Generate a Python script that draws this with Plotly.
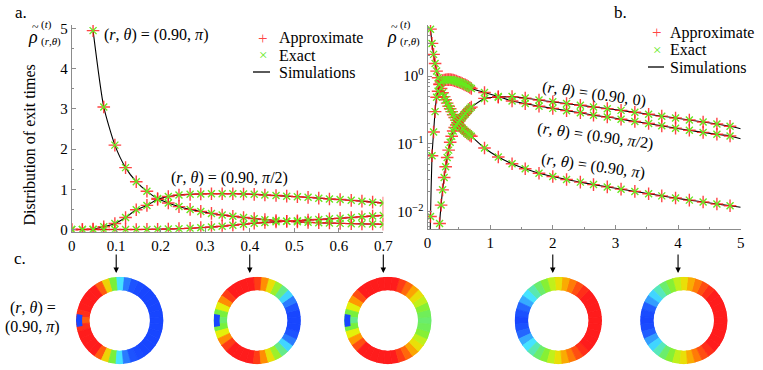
import plotly.graph_objects as go

W, H = 763, 370
FONT = "Liberation Serif"

# ── values ───────────────────────────────────────────────────────────────────
# dense sampling used in panel a (and the start of panel b)
t_dense = [0, 0.024, 0.048, 0.072, 0.097, 0.121, 0.145, 0.169, 0.193, 0.217,
           0.241, 0.266, 0.290, 0.314, 0.338, 0.362, 0.386, 0.410, 0.434, 0.459,
           0.483, 0.507, 0.531, 0.555, 0.579, 0.603, 0.628, 0.652, 0.676, 0.700]
# sparse sampling used for the long-time part of panel b
t_tail = [0.91, 1.13, 1.35, 1.56, 1.78, 2.00, 2.22, 2.44, 2.65, 2.87,
          3.09, 3.31, 3.53, 3.74, 3.96, 4.18, 4.40, 4.62, 4.83]
t_last = 5.0

# (r, theta) = (0.90, pi)
rho_pi = [None, None, 4.95, 3.05, 2.1, 1.54, 1.19, 0.95, 0.77, 0.66,
          0.57, 0.50, 0.45, 0.40, 0.36, 0.33, 0.30, 0.27, 0.245, 0.225,
          0.205, 0.19, 0.178, 0.168, 0.16, 0.152, 0.145, 0.14, 0.135, 0.13]
rho_pi_tail = [0.087, 0.064, 0.051, 0.043, 0.037, 0.033, 0.0298, 0.0273, 0.0251, 0.0232,
               0.0215, 0.0199, 0.0184, 0.0171, 0.0159, 0.0148, 0.0139, 0.0130, 0.0122]
rho_pi_last = 0.0116

# (r, theta) = (0.90, pi/2)
rho_half = [0, 0.0005, 0.0085, 0.067, 0.15, 0.30, 0.49, 0.60, 0.75, 0.82,
            0.86, 0.875, 0.885, 0.89, 0.89, 0.89, 0.885, 0.875, 0.86, 0.845,
            0.83, 0.815, 0.80, 0.78, 0.76, 0.745, 0.725, 0.705, 0.68, 0.66]
rho_half_tail = [0.575, 0.50, 0.43, 0.394, 0.36, 0.335, 0.31, 0.288, 0.266, 0.25,
                 0.232, 0.214, 0.20, 0.185, 0.171, 0.159, 0.148, 0.139, 0.131]
rho_half_last = 0.119

# (r, theta) = (0.90, 0)
rho_zero = [0, 0, 0, 0, 0, 0, 0.0005, 0.0022, 0.0067, 0.0125,
            0.021, 0.032, 0.046, 0.063, 0.081, 0.106, 0.13, 0.155, 0.175, 0.19,
            0.205, 0.218, 0.235, 0.25, 0.265, 0.28, 0.30, 0.318, 0.335, 0.35]
rho_zero_tail = [0.47, 0.49, 0.50, 0.475, 0.445, 0.418, 0.394, 0.372, 0.351, 0.332,
                 0.313, 0.293, 0.275, 0.257, 0.242, 0.226, 0.211, 0.197, 0.182]
rho_zero_last = 0.168

xa_ticks = [0, 0.1, 0.2, 0.3, 0.4, 0.5, 0.6, 0.7]
xa_text = ["0", "0.1", "0.2", "0.3", "0.4", "0.5", "0.6", "0.7"]
ya_ticks = [0, 1, 2, 3, 4, 5]
xb_ticks = [0, 1, 2, 3, 4, 5]
yb_ticks = [0.01, 0.1, 1]
yb_text = ["10<sup>−2</sup>", "10<sup>−1</sup>", "10<sup>0</sup>"]
yb_minor = [0.006, 0.007, 0.008, 0.009, 0.02, 0.03, 0.04, 0.05, 0.06, 0.07, 0.08, 0.09,
            0.2, 0.3, 0.4, 0.5, 0.6, 0.7, 0.8, 0.9, 2, 3, 4, 5]
legend_names = ["Approximate", "Exact", "Simulations"]

# exit-location maps (panel c): colour level vs angle (deg), upper half, mirrored below
ring_angles = [0, 10, 20, 30, 40, 50, 60, 70, 80, 90,
               100, 110, 120, 130, 140, 150, 160, 170, 180]
ring_t01 = [0, 0, 0, 0, 0, 0, 0.02, 0.05, 0.15, 0.3,
            0.5, 0.7, 0.9, 1, 1, 1, 1, 0.97, 0.9]
ring_t04 = [0, 0, 0.05, 0.15, 0.28, 0.42, 0.55, 0.68, 0.82, 0.95,
            1, 1, 1, 1, 0.95, 0.82, 0.65, 0.5, 0.45]
ring_t07 = [0.45, 0.47, 0.52, 0.6, 0.68, 0.78, 0.88, 0.95, 1, 1,
            1, 1, 1, 1, 0.92, 0.8, 0.65, 0.5, 0.42]
ring_t2 = [1, 1, 1, 1, 1, 0.97, 0.92, 0.85, 0.77, 0.68,
           0.6, 0.52, 0.45, 0.38, 0.3, 0.22, 0.12, 0.04, 0]
ring_t4 = [1, 1, 1, 1, 1, 0.97, 0.92, 0.85, 0.77, 0.68,
           0.6, 0.52, 0.45, 0.37, 0.28, 0.2, 0.09, 0.02, 0]
ring_times = [0.1, 0.4, 0.7, 2, 4]
ring_levels = [ring_t01, ring_t04, ring_t07, ring_t2, ring_t4]

JET = [[0, "#1846ff"], [0.12, "#2466ff"], [0.3, "#45e3ff"], [0.5, "#78f03c"],
       [0.65, "#e4f00a"], [0.8, "#ff9a00"], [1, "#ff1c1c"]]
RED = "rgba(255,35,35,0.85)"
GREEN = "#66e81e"
AXIS = "#8c8c8c"


def px(x):
    return x / W


def py(y):
    return 1 - y / H


fig = go.Figure()

# ── panels a and b ───────────────────────────────────────────────────────────
curves = [
    (rho_pi, rho_pi_tail, rho_pi_last),
    (rho_half, rho_half_tail, rho_half_last),
    (rho_zero, rho_zero_tail, rho_zero_last),
]
for dense, tail, last in curves:
    for xa, ya in (("x", "y"), ("x2", "y2")):
        if xa == "x":
            tm, vm = t_dense, dense
            tl, vl = t_dense, dense
        else:
            tm, vm = t_dense + t_tail, dense + tail
            tl, vl = tm + [t_last], vm + [last]
        fig.add_trace(go.Scatter(
            x=tl, y=vl, mode="lines", showlegend=False, xaxis=xa, yaxis=ya, hoverinfo="skip",
            line=dict(color="black", width=1.1, shape="spline", smoothing=0.6)))
        fig.add_trace(go.Scatter(
            x=tm, y=vm, mode="markers", showlegend=False, xaxis=xa, yaxis=ya,
            marker=dict(symbol="cross-thin", size=9, line=dict(color=RED, width=1.4))))
        fig.add_trace(go.Scatter(
            x=tm, y=vm, mode="markers", showlegend=False, xaxis=xa, yaxis=ya,
            marker=dict(symbol="x-thin", size=7, line=dict(color=GREEN, width=1.4))))

# ── panel c: rings ───────────────────────────────────────────────────────────
ring_cx = [119.7, 257.2, 387.8, 558.3, 683.8]
ring_cy, ring_r = 320.5, 43.7
thetas = ring_angles + [360 - a for a in ring_angles[-2:0:-1]]
polars = {}
for k, levels in enumerate(ring_levels):
    name = "polar" if k == 0 else f"polar{k + 1}"
    full = levels + levels[-2:0:-1]
    fig.add_trace(go.Barpolar(
        r=[1] * len(full), theta=thetas, width=[10] * len(full), subplot=name,
        showlegend=False, hoverinfo="skip",
        marker=dict(color=full, colorscale=JET, cmin=0, cmax=1,
                    line=dict(width=0.8, color=full, colorscale=JET, cmin=0, cmax=1))))
    if ring_times[k] < 1:
        # starting point: small blue spot on the outer edge
        fig.add_trace(go.Barpolar(
            r=[0.45], base=[0.55], theta=[180], width=[17], subplot=name,
            showlegend=False, hoverinfo="skip",
            marker=dict(color="#1846ff", line=dict(width=0))))
    cx = ring_cx[k]
    polars[name] = dict(
        domain=dict(x=[px(cx - ring_r), px(cx + ring_r)],
                    y=[py(ring_cy + ring_r), py(ring_cy - ring_r)]),
        hole=0.69, bargap=0, bgcolor="rgba(0,0,0,0)",
        radialaxis=dict(visible=False, range=[0, 1]),
        angularaxis=dict(visible=False))

# ── axes ─────────────────────────────────────────────────────────────────────
common = dict(showline=True, linecolor=AXIS, linewidth=1, ticks="inside",
              ticklen=4, tickcolor=AXIS, showgrid=False, zeroline=False,
              tickfont=dict(family=FONT, size=15, color="black"))
minor = dict(ticks="inside", ticklen=2, tickcolor=AXIS)
fig.update_layout(
    width=W, height=H, margin=dict(l=0, r=0, t=0, b=0),
    paper_bgcolor="white", plot_bgcolor="white", template="none", showlegend=False,
    xaxis=dict(domain=[px(71.7), px(383.3)], range=[0, 0.7], anchor="y",
               tickvals=xa_ticks, ticktext=xa_text, **common),
    yaxis=dict(domain=[py(231.7), py(25)], range=[-0.055, 5.09], anchor="x",
               tickvals=ya_ticks, minor=dict(dtick=0.5, **minor), **common),
    xaxis2=dict(domain=[px(427.5), px(740.7)], range=[0, 5], anchor="y2",
                tickvals=xb_ticks, minor=dict(dtick=0.5, **minor), **common),
    yaxis2=dict(domain=[py(229), py(25)], type="log", range=[-2.256, 0.756], anchor="x2",
                tickvals=yb_ticks, ticktext=yb_text,
                minor=dict(tickvals=yb_minor, **minor), **common),
    **polars,
)

# ── text ─────────────────────────────────────────────────────────────────────
rt = "(<i>r</i>, <i>θ</i>) = "


def label(x, y, text, size=15, angle=0, xanchor="center", color="black"):
    fig.add_annotation(x=px(x), y=py(y), xref="paper", yref="paper", text=text,
                       showarrow=False, textangle=angle, xanchor=xanchor, yanchor="middle",
                       font=dict(family=FONT, size=size, color=color))


label(21, 12, "a.", 17)
label(620, 12, "b.", 17)
label(20, 258, "c.", 17)
fig.add_annotation(x=px(18), y=py(145), xref="paper", yref="paper",
                   text="Distribution of exit times", showarrow=False, textangle=-90,
                   font=dict(family=FONT, size=16, color="black"))

for x0 in (33, 392):
    label(x0, 37, "<i>ρ</i>", 18)
    label(x0 + 2, 27, "~", 12)
    label(x0 + 6, 24, "(<i>t</i>)", 11, xanchor="left")
    label(x0 + 6, 42, "(<i>r</i>,<i>θ</i>)", 11, xanchor="left")

label(156, 35, rt + "(0.90, <i>π</i>)", 16)
label(229, 178, rt + "(0.90, <i>π</i>/2)", 16)
label(594, 94, rt + "(0.90, 0)", 16, angle=8)
label(595, 136, rt + "(0.90, <i>π</i>/2)", 16, angle=8)
label(593, 166, rt + "(0.90, <i>π</i>)", 16, angle=8)

label(62, 308, rt, 16, xanchor="right")
label(62, 327, "(0.90, <i>π</i>)", 16, xanchor="right")

# legends drawn by hand: symbol column + names
for lx, ly, dy, line_x0, line_x1, text_x in ((262.5, 38, 17, 253, 270, 277),
                                            (657, 33, 17, 648, 664, 668)):
    label(lx, ly, "+", 17, color=RED)
    label(lx, ly + dy, "×", 15, color=GREEN)
    fig.add_shape(type="line", xref="paper", yref="paper",
                  x0=px(line_x0), x1=px(line_x1), y0=py(ly + 2 * dy), y1=py(ly + 2 * dy),
                  line=dict(color="black", width=1.3))
    for j, nm in enumerate(legend_names):
        label(text_x, ly + j * dy, nm, 16, xanchor="left")

# arrows from the time axes down to the rings
for tt in ring_times:
    fig.add_annotation(x=tt, y=py(273), xref="x" if tt < 1 else "x2", yref="paper",
                       text="", showarrow=True, arrowhead=2, arrowsize=1, arrowwidth=1.1,
                       arrowcolor="black", ax=0, ay=-20)

fig.write_html("out.html", config={"displayModeBar": False},
               post_script="document.body.style.margin='0';")
